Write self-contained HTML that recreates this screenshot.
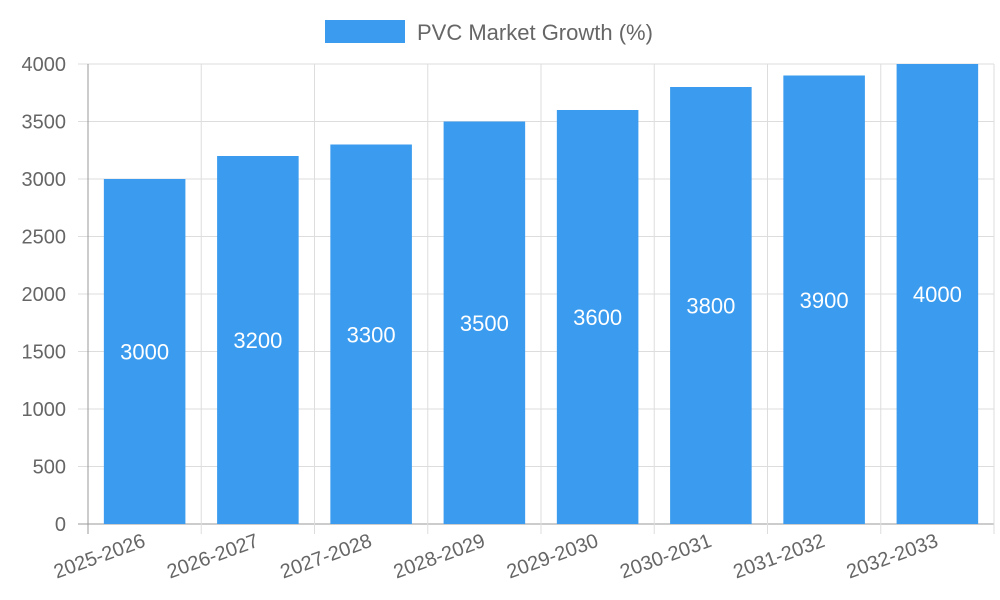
<!DOCTYPE html>
<html><head><meta charset="utf-8"><style>
body{margin:0;background:#fff;}
svg{display:block;font-family:"Liberation Sans",sans-serif;}
</style></head><body>
<svg id="chart" width="1000" height="600">
<g>
<rect x="325" y="20" width="80" height="23" fill="#3a9bef"/>
<text x="417" y="40" font-size="22" fill="#666">PVC Market Growth (%)</text>
</g>
<g id="grid"></g><g id="bars"></g><g id="labels"></g>
</svg>
<script>
const categories=["2025-2026","2026-2027","2027-2028","2028-2029","2029-2030","2030-2031","2031-2032","2032-2033"];
const values=[3000,3200,3300,3500,3600,3800,3900,4000];
const yTicks=[0,500,1000,1500,2000,2500,3000,3500,4000];
const NS="http://www.w3.org/2000/svg";
const L=88,R=994,T=64,B=524,yMax=4000;
const bw=(R-L)/categories.length;
const y=v=>B-(v/yMax)*(B-T);
const x=i=>L+i*bw;
function mk(tag,attrs,parent,text){const e=document.createElementNS(NS,tag);for(const k in attrs)e.setAttribute(k,attrs[k]);if(text!==undefined)e.textContent=text;parent.appendChild(e);return e;}
const grid=document.getElementById('grid'),bars=document.getElementById('bars'),labels=document.getElementById('labels');
yTicks.forEach(t=>{
 const ln=mk('line',{x1:78,x2:R,y1:y(t),y2:y(t),stroke:t===0?'#999':'#ddd','stroke-width':1},grid);
 
 
 const tx=mk('text',{x:66,y:y(t)+7,'text-anchor':'end','font-size':20,fill:'#666'},grid,String(t));
 
 
});
for(let i=0;i<=categories.length;i++){
 const ln=mk('line',{x1:x(i),x2:x(i),y1:T,y2:B+10,stroke:i===0?'#999':'#ddd','stroke-width':1},grid);
 
 
}
categories.forEach((c,i)=>{
 const v=values[i],cx=x(i)+bw/2,w=bw*0.72;
 const r=mk('rect',{x:cx-w/2,y:y(v),width:w,height:B-y(v),fill:'#3a9bef'},bars);
 
 
 const vt=mk('text',{x:cx,y:(y(v)+B)/2+8,'text-anchor':'middle','font-size':22,fill:'#fff'},labels,String(v));
 
 
 const lt=mk('text',{x:cx+2,y:546,'text-anchor':'end','font-size':20,fill:'#666',transform:`rotate(-20 ${cx+2} 546)`},labels,c);
 
 
});
</script>
</body></html>
